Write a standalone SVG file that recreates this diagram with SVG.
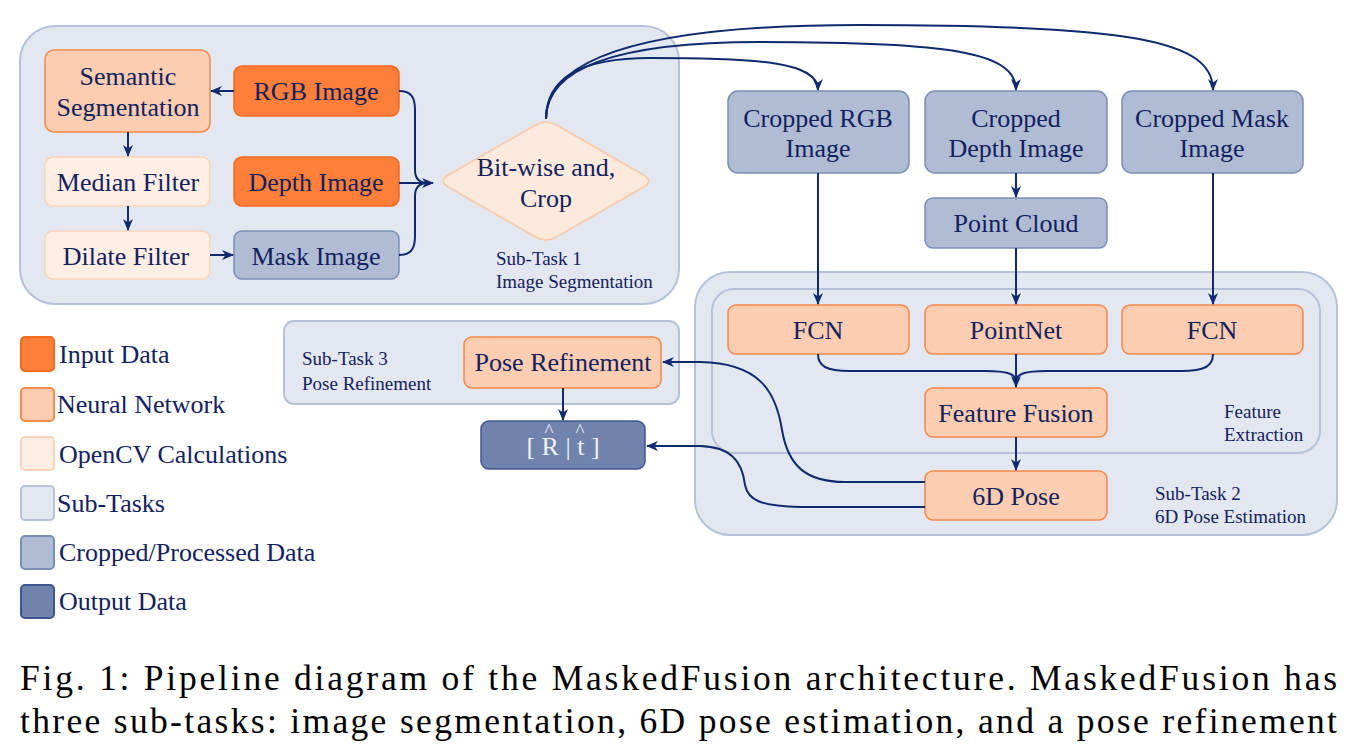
<svg xmlns="http://www.w3.org/2000/svg" width="1350" height="754" viewBox="0 0 1350 754">
<defs>
<style>
text{font-family:"Liberation Serif","Times New Roman",serif;fill:#13215e}
.t26{font-size:26px}
.t19{font-size:19px}
.mid{text-anchor:middle}
.sub{fill:#e3e8f0;stroke:#b7c2d9;stroke-width:2}
.inp{fill:#fe7f3a;stroke:#f36a1c;stroke-width:1.5}
.nn{fill:#fccdb0;stroke:#f6884a;stroke-width:1.5}
.cv{fill:#ffeee4;stroke:#fcd3b8;stroke-width:1.5}
.crop{fill:#b0bcd4;stroke:#7b8eb7;stroke-width:1.5}
.out{fill:#7083ad;stroke:#3e5590;stroke-width:1.5}
.ln{fill:none;stroke:#0f2a6e;stroke-width:2}
.cap{font-family:"Liberation Serif","DejaVu Serif",serif;font-size:35.5px;fill:#000}
</style>
<marker id="arr" viewBox="0 0 12 10" refX="11" refY="5" markerWidth="12" markerHeight="10" markerUnits="userSpaceOnUse" orient="auto">
<path d="M0,0 L12,5 L0,10 L3.5,5 Z" fill="#0f2a6e"/>
</marker>
</defs>
<rect width="1350" height="754" fill="#ffffff"/>

<!-- Sub-task containers -->
<g id="subtask1">
<rect class="sub" x="20" y="26" width="659" height="278" rx="35"/>
<text class="t19" x="496" y="265">Sub-Task 1</text>
<text class="t19" x="496" y="288">Image Segmentation</text>
</g>
<g id="subtask2">
<rect class="sub" x="695" y="272" width="642" height="263" rx="35"/>
<text class="t19" x="1155" y="500">Sub-Task 2</text>
<text class="t19" x="1155" y="523">6D Pose Estimation</text>
</g>
<g id="feature-extraction">
<rect class="sub" x="712" y="289" width="608" height="164" rx="22"/>
<text class="t19" x="1224" y="418">Feature</text>
<text class="t19" x="1224" y="441">Extraction</text>
</g>
<g id="subtask3">
<rect class="sub" x="284" y="321" width="395" height="83" rx="10"/>
<text class="t19" x="302" y="365">Sub-Task 3</text>
<text class="t19" x="302" y="390">Pose Refinement</text>
</g>

<!-- Nodes -->
<g id="semantic-segmentation">
<rect class="nn" x="45" y="50" width="165" height="82" rx="9"/>
<text class="t26 mid" x="128" y="85">Semantic</text>
<text class="t26 mid" x="128" y="116">Segmentation</text>
</g>
<g id="rgb-image">
<rect class="inp" x="234" y="66" width="165" height="50" rx="8"/>
<text class="t26 mid" x="316" y="100">RGB Image</text>
</g>
<g id="median-filter">
<rect class="cv" x="45" y="157" width="165" height="49" rx="8"/>
<text class="t26 mid" x="128" y="191">Median Filter</text>
</g>
<g id="depth-image">
<rect class="inp" x="234" y="157" width="165" height="49" rx="8"/>
<text class="t26 mid" x="316" y="191">Depth Image</text>
</g>
<g id="dilate-filter">
<rect class="cv" x="45" y="231" width="165" height="48" rx="8"/>
<text class="t26 mid" x="126" y="265">Dilate Filter</text>
</g>
<g id="mask-image">
<rect class="crop" x="234" y="231" width="165" height="48" rx="8"/>
<text class="t26 mid" x="316" y="265">Mask Image</text>
</g>
<g id="bitwise-crop">
<path d="M535.6,125 Q546,119 556.4,125 L643.6,175 Q654,181 643.6,187 L556.4,237 Q546,243 535.6,237 L448.4,187 Q438,181 448.4,175 Z" fill="#feeadd" stroke="#fcc8a6" stroke-width="1.5"/>
<text class="t26 mid" x="546" y="176">Bit-wise and,</text>
<text class="t26 mid" x="546" y="207">Crop</text>
</g>
<g id="cropped-rgb">
<rect class="crop" x="728" y="91" width="181" height="82" rx="10"/>
<text class="t26 mid" x="818" y="127">Cropped RGB</text>
<text class="t26 mid" x="818" y="157">Image</text>
</g>
<g id="cropped-depth">
<rect class="crop" x="925" y="91" width="182" height="82" rx="10"/>
<text class="t26 mid" x="1016" y="127">Cropped</text>
<text class="t26 mid" x="1016" y="157">Depth Image</text>
</g>
<g id="cropped-mask">
<rect class="crop" x="1122" y="91" width="181" height="82" rx="10"/>
<text class="t26 mid" x="1212" y="127">Cropped Mask</text>
<text class="t26 mid" x="1212" y="157">Image</text>
</g>
<g id="point-cloud">
<rect class="crop" x="925" y="198" width="182" height="50" rx="8"/>
<text class="t26 mid" x="1016" y="232">Point Cloud</text>
</g>
<g id="fcn-rgb">
<rect class="nn" x="728" y="305" width="181" height="49" rx="8"/>
<text class="t26 mid" x="818" y="339">FCN</text>
</g>
<g id="pointnet">
<rect class="nn" x="925" y="305" width="182" height="49" rx="8"/>
<text class="t26 mid" x="1016" y="339">PointNet</text>
</g>
<g id="fcn-mask">
<rect class="nn" x="1122" y="305" width="181" height="49" rx="8"/>
<text class="t26 mid" x="1212" y="339">FCN</text>
</g>
<g id="feature-fusion">
<rect class="nn" x="925" y="388" width="182" height="49" rx="8"/>
<text class="t26 mid" x="1016" y="422">Feature Fusion</text>
</g>
<g id="pose-6d">
<rect class="nn" x="925" y="471" width="182" height="49" rx="8"/>
<text class="t26 mid" x="1016" y="505">6D Pose</text>
</g>
<g id="pose-refinement">
<rect class="nn" x="464" y="337" width="197" height="51" rx="8"/>
<text class="t26 mid" x="563" y="371">Pose Refinement</text>
</g>
<g id="output-rt">
<rect class="out" x="481" y="421" width="164" height="48" rx="8"/>
<text class="t26" style="fill:#eef1f8"><tspan x="563" y="455" text-anchor="middle">[ R | t ]</tspan><tspan x="549" y="437" text-anchor="middle" style="font-size:19px">^</tspan><tspan x="580" y="437" text-anchor="middle" style="font-size:19px">^</tspan></text>
</g>

<!-- Connectors -->
<g id="connectors">
<path class="ln" d="M234,91 L211,91" marker-end="url(#arr)"/>
<path class="ln" d="M128,132 L128,156" marker-end="url(#arr)"/>
<path class="ln" d="M128,206 L128,230" marker-end="url(#arr)"/>
<path class="ln" d="M210,255 L233,255" marker-end="url(#arr)"/>
<path class="ln" d="M399,91 C411,91 415,97 415,110 L415,170 C415,179 419,183 428,183"/>
<path class="ln" d="M399,255 C411,255 415,249 415,236 L415,196 C415,187 419,183 428,183"/>
<path class="ln" d="M399,183 L433,183" marker-end="url(#arr)"/>
<path class="ln" d="M546,119 C546,78 580,58 650,58 C760,58 818,62 818,90" marker-end="url(#arr)"/>
<path class="ln" d="M546,119 C546,70 610,42 760,42 C950,42 1016,52 1016,90" marker-end="url(#arr)"/>
<path class="ln" d="M546,119 C546,60 640,25 860,25 C1130,25 1213,40 1213,90" marker-end="url(#arr)"/>
<path class="ln" d="M818,173 L818,304" marker-end="url(#arr)"/>
<path class="ln" d="M1016,173 L1016,197" marker-end="url(#arr)"/>
<path class="ln" d="M1016,248 L1016,304" marker-end="url(#arr)"/>
<path class="ln" d="M1213,173 L1213,304" marker-end="url(#arr)"/>
<path class="ln" d="M818,354 C818,366 826,371 850,371 L985,371 C1008,371 1016,374 1016,382"/>
<path class="ln" d="M1213,354 C1213,366 1205,371 1181,371 L1047,371 C1024,371 1016,374 1016,382"/>
<path class="ln" d="M1016,354 L1016,387" marker-end="url(#arr)"/>
<path class="ln" d="M1016,437 L1016,470" marker-end="url(#arr)"/>
<path class="ln" d="M925,482 L845,482 C805,482 788,465 782,430 C776,392 760,363 700,362 L663,362" marker-end="url(#arr)"/>
<path class="ln" d="M925,507 L800,507 C760,506 748,500 745,485 C742,460 730,447 700,446 L647,446" marker-end="url(#arr)"/>
<path class="ln" d="M563,388 L563,420" marker-end="url(#arr)"/>
</g>

<!-- Legend -->
<g id="legend">
<rect class="inp" x="21" y="337" width="33" height="34" rx="4" style="stroke-width:2"/>
<text class="t26" x="59" y="363">Input Data</text>
<rect class="nn" x="21" y="388" width="33" height="33" rx="4" style="stroke-width:2"/>
<text class="t26" x="57" y="413">Neural Network</text>
<rect class="cv" x="21" y="437" width="33" height="33" rx="4" style="stroke-width:2"/>
<text class="t26" x="59" y="463">OpenCV Calculations</text>
<rect class="sub" x="21" y="486" width="33" height="34" rx="4"/>
<text class="t26" x="57" y="512">Sub-Tasks</text>
<rect class="crop" x="21" y="536" width="33" height="33" rx="4" style="stroke-width:2"/>
<text class="t26" x="59" y="561">Cropped/Processed Data</text>
<rect class="out" x="21" y="585" width="33" height="33" rx="4" style="stroke-width:2"/>
<text class="t26" x="59" y="610">Output Data</text>
</g>

<!-- Caption -->
<g id="caption">
<text class="cap" x="20" y="690" textLength="1317" lengthAdjust="spacing">Fig. 1: Pipeline diagram of the MaskedFusion architecture. MaskedFusion has</text>
<text class="cap" x="20" y="733" textLength="1317" lengthAdjust="spacing">three sub-tasks: image segmentation, 6D pose estimation, and a pose refinement</text>
</g>
</svg>
